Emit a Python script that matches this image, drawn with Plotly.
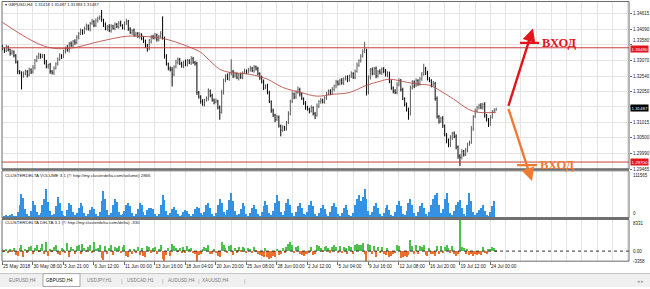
import plotly.graph_objects as go

W, H = 650, 289
FONT = "Liberation Sans"

# ---------------- data ----------------
date_labels = ["25 May 2018", "30 May 08:00", "3 Jun 21:00", "6 Jun 12:00", "11 Jun 00:00",
               "13 Jun 16:00", "18 Jun 04:00", "20 Jun 20:00", "25 Jun 08:00", "28 Jun 00:00",
               "2 Jul 12:00", "5 Jul 04:00", "9 Jul 16:00", "12 Jul 08:00", "16 Jul 20:00",
               "19 Jul 12:00", "24 Jul 00:00"]
date_bars = [0, 16, 32, 48, 64, 80, 96, 112, 128, 144, 160, 176, 192, 208, 224, 240, 256]

open_first = 1.3352
close = [
    1.3345, 1.3338, 1.3350, 1.3342, 1.3330, 1.3335, 1.3322, 1.3300, 1.3270, 1.3265,
    1.3255, 1.3262, 1.3270, 1.3258, 1.3275, 1.3268, 1.3282, 1.3305, 1.3318, 1.3325,
    1.3318, 1.3322, 1.3300, 1.3285, 1.3292, 1.3270, 1.3265, 1.3280, 1.3295, 1.3310,
    1.3322, 1.3318, 1.3335, 1.3348, 1.3340, 1.3362, 1.3355, 1.3370, 1.3365, 1.3382,
    1.3395, 1.3405, 1.3398, 1.3412, 1.3420, 1.3410, 1.3428, 1.3435, 1.3422, 1.3438,
    1.3445, 1.3450, 1.3440, 1.3425, 1.3410, 1.3418, 1.3405, 1.3420, 1.3412, 1.3425,
    1.3418, 1.3430, 1.3422, 1.3415, 1.3428, 1.3435, 1.3410, 1.3398, 1.3405, 1.3390,
    1.3395, 1.3385, 1.3392, 1.3378, 1.3370, 1.3355, 1.3345, 1.3368, 1.3385, 1.3380,
    1.3390, 1.3375, 1.3385, 1.3395, 1.3380, 1.3320, 1.3295, 1.3280, 1.3275, 1.3260,
    1.3285, 1.3300, 1.3310, 1.3295, 1.3288, 1.3300, 1.3292, 1.3305, 1.3298, 1.3312,
    1.3300, 1.3295, 1.3200, 1.3185, 1.3170, 1.3160, 1.3175, 1.3180, 1.3205, 1.3190,
    1.3175, 1.3168, 1.3172, 1.3150, 1.3135, 1.3200, 1.3240, 1.3255, 1.3245, 1.3262,
    1.3270, 1.3255, 1.3262, 1.3248, 1.3258, 1.3250, 1.3265, 1.3272, 1.3268, 1.3275,
    1.3280, 1.3272, 1.3285, 1.3278, 1.3262, 1.3250, 1.3235, 1.3215, 1.3222, 1.3200,
    1.3170, 1.3140, 1.3125, 1.3110, 1.3118, 1.3090, 1.3075, 1.3085, 1.3080, 1.3100,
    1.3130, 1.3170, 1.3195, 1.3185, 1.3200, 1.3210, 1.3195, 1.3180, 1.3165, 1.3150,
    1.3145, 1.3138, 1.3150, 1.3130, 1.3125, 1.3155, 1.3170, 1.3175, 1.3168, 1.3182,
    1.3195, 1.3205, 1.3198, 1.3210, 1.3222, 1.3235, 1.3228, 1.3240, 1.3232, 1.3245,
    1.3250, 1.3240, 1.3255, 1.3262, 1.3250, 1.3270, 1.3290, 1.3305, 1.3320, 1.3335,
    1.3340, 1.3200, 1.3250, 1.3275, 1.3262, 1.3280, 1.3255, 1.3270, 1.3265, 1.3278,
    1.3270, 1.3258, 1.3265, 1.3235, 1.3215, 1.3205, 1.3200, 1.3225, 1.3240, 1.3210,
    1.3180, 1.3160, 1.3145, 1.3130, 1.3215, 1.3235, 1.3222, 1.3240, 1.3228, 1.3245,
    1.3260, 1.3280, 1.3265, 1.3245, 1.3240, 1.3225, 1.3230, 1.3180, 1.3120, 1.3105,
    1.3115, 1.3090, 1.3060, 1.3040, 1.3025, 1.3050, 1.3065, 1.3055, 1.3020, 1.2990,
    1.2985, 1.3005, 1.2995, 1.3010, 1.3030, 1.3035, 1.3080, 1.3120, 1.3140, 1.3150,
    1.3158, 1.3150, 1.3160, 1.3125, 1.3110, 1.3095, 1.3120, 1.3135, 1.31418, 1.31487,
]
# wick lengths above / below the candle body, in pips (0.0001)
wick_up = [
    6, 4, 8, 5, 3, 7, 4, 5, 6, 4,   5, 8, 6, 4, 7, 5, 9, 6, 5, 7,
    4, 6, 5, 8, 3, 6, 4, 7, 5, 6,   8, 5, 6, 4, 9, 5, 7, 4, 6, 8,
    5, 7, 4, 6, 8, 5, 6, 9, 4, 7,   6, 5, 23, 4, 7, 5, 8, 6, 4, 7,
    5, 6, 8, 4, 7, 9, 5, 6, 4, 7,   6, 5, 7, 4, 8, 5, 6, 9, 5, 6,
    7, 5, 6, 8, 57, 5, 7, 4, 6, 9,  5, 8, 6, 4, 7, 5, 9, 6, 5, 8,
    6, 4, 7, 5, 6, 8, 4, 7, 9, 5,   6, 5, 8, 4, 7, 9, 6, 5, 8, 6,
    40, 5, 7, 4, 6, 8, 5, 7, 4, 6,  8, 5, 6, 4, 7, 5, 6, 8, 5, 7,
    6, 4, 7, 5, 8, 6, 4, 7, 5, 6,   8, 6, 9, 5, 7, 10, 6, 5, 4, 7,
    6, 5, 8, 4, 6, 9, 5, 7, 4, 6,   7, 5, 6, 8, 4, 7, 5, 6, 8, 5,
    6, 7, 4, 8, 5, 6, 9, 5, 7, 8,   28, 5, 7, 6, 8, 5, 6, 4, 7, 5,
    6, 8, 5, 4, 7, 5, 6, 9, 7, 5,   6, 4, 7, 5, 8, 6, 5, 7, 4, 6,
    8, 15, 5, 7, 6, 4, 8, 5, 7, 6,  5, 7, 4, 6, 8, 9, 5, 6, 7, 5,
    6, 8, 5, 7, 4, 6, 9, 5, 7, 6,   5, 7, 6, 8, 4, 6, 5, 7, 6, 0,
]
wick_dn = [
    5, 7, 4, 6, 8, 5, 6, 4, 9, 5,   45, 6, 5, 8, 4, 7, 5, 6, 4, 7,
    6, 4, 7, 5, 6, 8, 5, 7, 4, 6,   5, 7, 4, 6, 5, 8, 4, 6, 7, 5,
    6, 5, 7, 4, 6, 5, 8, 4, 6, 5,   7, 5, 6, 8, 4, 6, 5, 7, 4, 6,
    5, 7, 4, 6, 8, 5, 6, 4, 7, 5,   6, 4, 7, 5, 6, 8, 10, 5, 6, 4,
    5, 7, 6, 4, 5, 8, 6, 7, 5, 40,  6, 5, 7, 4, 6, 8, 5, 6, 4, 7,
    5, 6, 8, 5, 7, 4, 6, 5, 7, 6,   5, 7, 4, 6, 25, 5, 7, 6, 4, 6,
    5, 7, 6, 4, 8, 5, 6, 4, 7, 5,   6, 4, 7, 5, 6, 8, 5, 7, 4, 6,
    5, 7, 6, 8, 4, 6, 20, 5, 7, 6,  4, 6, 5, 7, 6, 4, 8, 5, 6, 7,
    5, 7, 4, 6, 13, 5, 6, 7, 4, 5,  6, 4, 7, 5, 6, 8, 5, 4, 6, 7,
    5, 6, 4, 7, 5, 6, 4, 5, 6, 4,   5, 10, 6, 7, 5, 4, 8, 6, 5, 7,
    6, 5, 7, 4, 6, 8, 5, 6, 4, 7,   5, 6, 8, 20, 6, 5, 7, 4, 6, 5,
    6, 4, 7, 5, 6, 8, 5, 7, 6, 8,   6, 7, 5, 8, 6, 5, 7, 6, 8, 9,
    28, 6, 7, 5, 8, 6, 5, 7, 4, 6,  6, 5, 7, 8, 6, 9, 5, 6, 4, 2.5,
]
# CLUSTERDELTA VOLUME, thousands
volume_k = [
    3, 5, 7, 5, 8, 10, 4, 6, 14, 30,     57, 48, 22, 10, 6, 18, 40, 32, 15, 8,
    12, 30, 45, 70, 38, 18, 7, 10, 28, 50,  35, 16, 8, 6, 20, 37, 30, 14, 7, 12,
    25, 37, 28, 12, 6, 10, 20, 27, 22, 9,   6, 14, 40, 64, 45, 20, 8, 12, 30, 45,
    38, 15, 7, 10, 18, 30, 37, 28, 12, 6,   9, 22, 37, 30, 14, 8, 20, 24, 25, 22,
    10, 6, 9, 30, 55, 42, 18, 7, 12, 22,    27, 20, 10, 5, 8, 15, 20, 18, 9, 6,
    10, 22, 27, 24, 12, 7, 14, 30, 37, 25,  10, 6, 12, 30, 45, 35, 14, 8, 20, 42,
    60, 40, 16, 7, 10, 22, 35, 28, 11, 6,   12, 24, 30, 22, 9, 6, 14, 28, 40, 30,
    12, 7, 16, 35, 55, 40, 15, 8, 18, 36,   45, 30, 12, 6, 14, 28, 35, 25, 10, 7,
    15, 30, 40, 28, 11, 6, 12, 25, 30, 22,  9, 6, 14, 28, 35, 26, 10, 6, 12, 24,
    30, 20, 8, 5, 12, 30, 45, 55, 40, 50,   70, 45, 16, 7, 14, 28, 35, 24, 9, 6,
    12, 25, 30, 20, 8, 6, 15, 30, 40, 28,   10, 7, 18, 35, 45, 32, 12, 6, 14, 28,
    35, 25, 9, 6, 14, 30, 45, 55, 60, 30,   12, 22, 45, 60, 35, 12, 8, 16, 30, 38,
    42, 25, 10, 6, 30, 60, 40, 14, 8, 12,   20, 24, 30, 18, 8, 6, 14, 28, 40, 2.866,
]
# CLUSTERDELTA DELTA, hundreds
delta_h = [
    3, -4, 2, -6, 5, -3, 8, -12, -15, 6,     14, -18, 4, -5, 9, 12, -10, 7, 15, -4,
    6, 18, -8, 22, -14, 5, -3, 10, 16, -9,   -12, 8, 4, -6, 20, -16, 9, 3, -8, 12,
    15, -10, 18, 6, -4, 10, 14, -7, 22, 5,   8, 16, -20, -24, 12, -9, 6, 14, -11, 10,
    7, 12, -6, 9, 16, -15, -18, 5, -10, 4,   -6, 10, -12, 8, -14, -16, 12, 9, -5, 6,
    10, -8, 5, 14, -22, -28, -12, 6, -15, 18, 12, 8, -4, 6, -7, 10, -5, 11, 4, 7,
    -6, -8, -30, -12, -9, 5, 10, 6, 14, -10, -8, 4, -6, -14, -18, 22, 16, 8, -7, 12,
    14, -12, 6, -5, 9, -4, 10, 7, -6, 8,     5, -7, 9, -4, -10, -12, -14, -16, 6, -18,
    -22, -20, -14, -16, 5, -12, -9, 8, -6, 10, 18, 24, 14, -6, 10, 12, -10, -12, -14, -9,
    -8, -6, 9, -12, -10, 16, 12, 6, -4, 10,  12, 8, -5, 10, 14, 9, -6, 12, -7, 10,
    8, -9, 11, 10, -8, 14, 18, 16, 14, 20,   -10, -32, 18, 14, -8, 12, -16, 9, -6, 10,
    -8, -12, 6, -18, -14, -10, -6, 16, 12, -20, -16, -14, -18, -12, 28, 12, -8, 14, -10, 12,
    10, 16, -12, -14, 6, -10, -8, -14, 12, -10, 12, -6, 10, 14, 8, -5, 12, -10, -14, -8,
    80, 10, 6, -8, 5, -12, -10, -14, -9, -11, -8, -12, 10, -6, -9, 4, 5, 9, 6, -3.3,
]
# moving average (thin red line), sampled along the bars
ma_bars = [0, 22, 35, 51, 65, 72, 84, 97, 104, 107, 114, 119, 130, 139, 147, 156,
           165, 173, 182, 191, 198, 203, 212, 219, 224, 235, 247, 259]
ma_vals = [1.3432, 1.3353, 1.3346, 1.3369, 1.3386, 1.3386, 1.3379, 1.3353, 1.3333, 1.3316,
           1.3277, 1.3267, 1.3260, 1.3244, 1.3217, 1.3201, 1.3188, 1.3194, 1.3200, 1.3224,
           1.3237, 1.3244, 1.3234, 1.3227, 1.3224, 1.3185, 1.3138, 1.3135]

price_ticks = [1.29465, 1.29990, 1.30500, 1.31015, 1.31530, 1.32050, 1.32540,
               1.33070, 1.33580, 1.34090, 1.34615]
hidden_ticks = [1.31530]          # covered by the current-price tag in the picture
raised_ticks = [1.33580]          # sits just above the red level tag
level_hi = 1.33480
level_lo = 1.29700
vol_max = 111565
delta_max = 8331
delta_min = -3358
vol_now = 2866
delta_now = -330

# hand-drawn objects (bar index, price)
arrow_tail = (265.2, 1.31512)
arrow_up_head = (278.3, 1.34120)
arrow_dn_head = (277.8, 1.29070)
cross_up = (271.5, 281.5, 1.33641)
cross_dn = (270.0, 280.5, 1.29597)

tabs = ["EURUSD,H4", "GBPUSD,H4", "USDJPY,H1", "USDCAD,H1", "AUDUSD,H4", "XAUUSD,H4"]

# ---------------- derived ----------------
bars = list(range(len(close)))
opens = [open_first] + close[:-1]
highs = [max(o, c) + w * 1e-4 for o, c, w in zip(opens, close, wick_up)]
lows = [min(o, c) - w * 1e-4 for o, c, w in zip(opens, close, wick_dn)]
volume = [v * 1000 for v in volume_k]
delta = [d * 100 for d in delta_h]

def py(px):
    return 1 - px / H

def pxx(px):
    return px / W

X0, X1 = pxx(2), pxx(629)
XR = [-0.26, 328.7]
D_PRICE = [py(170.5), py(1.5)]
D_VOL = [py(219.5), py(172)]
D_DELTA = [py(263), py(221)]

GRID = "#e4e4e4"
FRAME = "#6a6a6a"
RED = "#e3141c"
ORANGE = "#f07a32"
TXT = "#222222"

fig = go.Figure()

fig.add_trace(go.Ohlc(
    x=bars, open=opens, high=highs, low=lows, close=close, tickwidth=0.25,
    increasing=dict(line=dict(color="#5a5a5a", width=1)),
    decreasing=dict(line=dict(color="#000000", width=1)),
    showlegend=False, hoverinfo="skip", xaxis="x", yaxis="y"))

fig.add_trace(go.Scatter(
    x=ma_bars, y=ma_vals, mode="lines", line=dict(color="#b8504a", width=0.9, shape="spline"),
    showlegend=False, hoverinfo="skip", xaxis="x", yaxis="y"))

fig.add_trace(go.Bar(
    x=bars, y=volume, width=0.6, marker=dict(color="#3492e4", line=dict(width=0)),
    showlegend=False, hoverinfo="skip", xaxis="x2", yaxis="y2"))

fig.add_trace(go.Bar(
    x=bars, y=delta, width=0.6,
    marker=dict(color=["#4cc24c" if d >= 0 else "#ec6e2a" for d in delta], line=dict(width=0)),
    showlegend=False, hoverinfo="skip", xaxis="x3", yaxis="y3"))

xcommon = dict(range=XR, domain=[X0, X1], tickmode="array", tickvals=date_bars,
               showgrid=True, gridcolor=GRID, gridwidth=1, zeroline=False, showline=False,
               minor=dict(tickmode="linear", tick0=0, dtick=8, showgrid=True,
                          gridcolor=GRID, gridwidth=1, ticks=""),
               fixedrange=True)

fig.update_layout(
    width=W, height=H, margin=dict(l=0, r=0, t=0, b=0),
    paper_bgcolor="white", plot_bgcolor="white",
    font=dict(family=FONT, size=5, color="#111111"),
    bargap=0,
    xaxis=dict(**xcommon, anchor="y", showticklabels=False, ticks="",
               rangeslider=dict(visible=False)),
    xaxis2=dict(**xcommon, anchor="y2", matches="x", showticklabels=False, ticks=""),
    xaxis3=dict(**xcommon, anchor="y3", matches="x", showticklabels=True,
                ticktext=date_labels, ticks="outside", ticklen=3, tickcolor=FRAME,
                ticklabelposition="outside right", tickangle=0,
                tickfont=dict(family=FONT, size=4.7, color=TXT)),
    yaxis=dict(domain=D_PRICE, range=[1.29460, 1.35011], side="right", anchor="x",
               tickmode="array", tickvals=price_ticks,
               ticktext=["" if (v in hidden_ticks or v in raised_ticks) else f"{v:.5f}"
                         for v in price_ticks],
               tickfont=dict(family=FONT, size=4.5, color=TXT),
               ticks="outside", ticklen=2, tickcolor=FRAME,
               showgrid=True, gridcolor=GRID, zeroline=False, fixedrange=True),
    yaxis2=dict(domain=D_VOL, range=[0, vol_max], anchor="x2", showticklabels=False,
                showgrid=False, zeroline=False, fixedrange=True),
    yaxis3=dict(domain=D_DELTA, range=[-2650, delta_max], anchor="x3", showticklabels=False,
                showgrid=False, zeroline=False, fixedrange=True),
)

shapes = []
for lvl in (level_hi, level_lo):
    shapes.append(dict(type="line", xref="x domain", yref="y", x0=0, x1=1, y0=lvl, y1=lvl,
                       line=dict(color="#c8413c", width=1)))
shapes.append(dict(type="line", xref="x3 domain", yref="y3", x0=0, x1=1, y0=0, y1=0,
                   line=dict(color="#333333", width=1, dash="dot")))
for (xa, xb, yv), col in ((cross_up, RED), (cross_dn, ORANGE)):
    shapes.append(dict(type="line", xref="x", yref="y", x0=xa, x1=xb, y0=yv, y1=yv,
                       line=dict(color=col, width=2.2)))
for dom in (D_PRICE, D_VOL, D_DELTA):
    shapes.append(dict(type="rect", xref="paper", yref="paper", x0=X0, x1=X1,
                       y0=dom[0], y1=dom[1], line=dict(color=FRAME, width=1)))
for dom in (D_PRICE, D_VOL):
    shapes.append(dict(type="line", xref="paper", yref="paper", x0=X0, x1=X1,
                       y0=dom[0], y1=dom[0], line=dict(color="#707070", width=2)))
shapes.append(dict(type="rect", xref="paper", yref="paper", x0=0, x1=1, y0=0, y1=py(275.5),
                   fillcolor="#f0f0f0", line=dict(width=0), layer="above"))
shapes.append(dict(type="line", xref="paper", yref="paper", x0=0, x1=1, y0=py(275.5), y1=py(275.5),
                   line=dict(color="#c4c4c4", width=1)))
shapes.append(dict(type="rect", xref="paper", yref="paper", x0=pxx(43), x1=pxx(80),
                   y0=py(288.5), y1=py(275.5), fillcolor="#ffffff",
                   line=dict(color="#a8a8a8", width=1), layer="above"))
fig.update_layout(shapes=shapes)

ann = []
ann.append(dict(xref="paper", yref="paper", x=pxx(2.5), y=py(5), xanchor="left", yanchor="middle",
                text="▾ GBPUSD,H4  1.31418 1.31487 1.31393 1.31487", showarrow=False,
                font=dict(size=4.2, color=TXT)))
ann.append(dict(xref="paper", yref="paper", x=pxx(2.5), y=py(176.5), xanchor="left", yanchor="middle",
                text=f"CLUSTERDELTA VOLUME 3.1 (© http://my.clusterdelta.com/volume) {vol_now}",
                showarrow=False, font=dict(size=4.4, color=TXT)))
ann.append(dict(xref="paper", yref="paper", x=pxx(2.5), y=py(224.5), xanchor="left", yanchor="middle",
                text=f"CLUSTERDELTA DELTA 3.1 (© http://my.clusterdelta.com/delta) {delta_now}",
                showarrow=False, font=dict(size=4.4, color=TXT)))
RX = pxx(631)
for v in raised_ticks:
    ann.append(dict(xref="paper", yref="y", x=RX, y=v, xanchor="left", yanchor="bottom",
                    yshift=-0.5, text=f"{v:.5f}", showarrow=False,
                    font=dict(size=4.5, color=TXT)))
for txt, yref, yv, anch in ((f"{vol_max}", "y2 domain", 1, "top"), ("0", "y2 domain", 0, "bottom"),
                            (f"{delta_max}", "y3 domain", 1, "top"), ("0.00", "y3", 0, "middle"),
                            (f"{delta_min}", "y3 domain", 0, "middle")):
    ann.append(dict(xref="paper", yref=yref, x=RX, y=yv, xanchor="left", yanchor=anch, text=txt,
                    showarrow=False, font=dict(size=4.5, color=TXT)))
for txt, yv, bg, anch in ((f"{level_hi:.5f}", level_hi, RED, "top"),
                          (f"{level_lo:.5f}", level_lo, RED, "middle"),
                          (f"{close[-1]:.5f}", close[-1], "#000000", "middle")):
    ann.append(dict(xref="paper", yref="y", x=pxx(629.5), y=yv, xanchor="left", yanchor=anch,
                    yshift=(2.5 if anch == "top" else 0),
                    text=txt, showarrow=False, bgcolor=bg, borderpad=0.5,
                    font=dict(size=4.4, color="#ffffff")))
for head, col in ((arrow_up_head, RED), (arrow_dn_head, ORANGE)):
    ann.append(dict(xref="x", yref="y", axref="x", ayref="y", x=head[0], y=head[1],
                    ax=arrow_tail[0], ay=arrow_tail[1], text="", showarrow=True,
                    arrowhead=2, arrowsize=1.1, arrowwidth=2.4, arrowcolor=col))
for (xa, xb, yv), col in ((cross_up, RED), (cross_dn, ORANGE)):
    ann.append(dict(xref="x", yref="y", x=xb + 0.3, y=yv, xanchor="left", yanchor="middle",
                    text="<b>ВХОД</b>", showarrow=False,
                    font=dict(family="Liberation Serif", size=12.5, color=col)))
tab_x = [22.5, 59, 99, 140, 181, 215]
for t, xc in zip(tabs, tab_x):
    ann.append(dict(xref="paper", yref="paper", x=pxx(xc), y=py(282.5), xanchor="center",
                    yanchor="middle", text=t, showarrow=False,
                    font=dict(size=4.6, color="#111111" if t == "GBPUSD,H4" else "#7a7a7a")))
for sx in (122, 163, 198.5, 245):
    ann.append(dict(xref="paper", yref="paper", x=pxx(sx), y=py(282.5), xanchor="center",
                    yanchor="middle", text="|", showarrow=False,
                    font=dict(size=6, color="#a8a8a8")))
ann.append(dict(xref="paper", yref="paper", x=pxx(640), y=py(282.5), xanchor="center",
                yanchor="middle", text="◂ ▸", showarrow=False, font=dict(size=5, color="#9a9a9a")))
fig.update_layout(annotations=ann)

fig.write_html("out.html")
